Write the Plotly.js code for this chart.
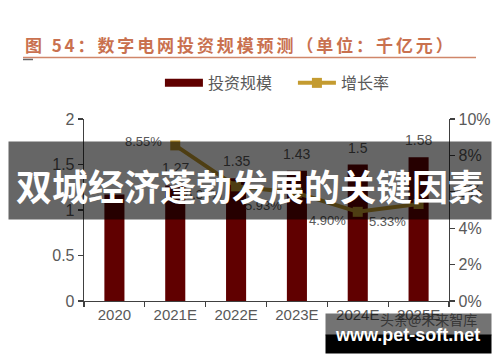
<!DOCTYPE html>
<html><head><meta charset="utf-8">
<script src="https://cdn.plot.ly/plotly-3.0.1.min.js"></script>
<style>
html,body{margin:0;padding:0;background:#fff}
#chart{width:500px;height:362px}
.gtitle{letter-spacing:2.9px}
</style>
</head><body><div id="chart"></div>
<script>
// ---- data ----
const categories = ['2020','2021E','2022E','2023E','2024E','2025E'];
const investment = [1.17, 1.27, 1.35, 1.43, 1.5, 1.58];
const growthCats = ['2021E','2022E','2023E','2024E','2025E'];
const growthRate = [8.55, 6.30, 5.93, 4.90, 5.33];
const leftTicks = [0, 0.5, 1, 1.5, 2];
const rightTicks = [0, 2, 4, 6, 8, 10];
const rightTickText = ['0%','2%','4%','6%','8%','10%'];
const seriesNames = ['投资规模','增长率'];
const titleText = '图 54：数字电网投资规模预测（单位：千亿元）';
const bannerText = '双城经济蓬勃发展的关键因素';
const sourceText = '头条@未来智库';
const watermarkText = 'www.pet-soft.net';

// ---- styles ----
const growthLabelShiftX = [-11, -12, -13, -10, -11];
const growthLabelShiftY = [4, -8, -12, -9, -18];
const barColor = '#600000';
const lineColor = '#c49b30';
const textColor = '#595959';
const numFont = 'Liberation Sans, Arial, sans-serif';
const cjkFont = 'Noto Sans CJK SC, sans-serif';

const data = [
  {type:'bar', x:categories, y:investment, marker:{color:barColor}, width:0.33,
   showlegend:false, hoverinfo:'skip'},
  {type:'scatter', mode:'lines', x:[null], y:[null], name:seriesNames[0],
   line:{color:barColor, width:8}, showlegend:true},
  {type:'scatter', mode:'lines+markers', x:growthCats, y:growthRate, yaxis:'y2',
   name:seriesNames[1], line:{color:lineColor, width:4},
   marker:{symbol:'square', size:10, color:lineColor}}
];

function paperNote(x, y, text, extra){
  return Object.assign({xref:'paper', yref:'paper', x:x, y:y, text:text, showarrow:false,
    xanchor:'center', yanchor:'middle'}, extra);
}

const annotations = [];
categories.forEach((c,i)=>{
  annotations.push({x:c, y:investment[i], xref:'x', yref:'y', text:String(investment[i]),
    showarrow:false, xanchor:'center', yanchor:'middle', yshift:17,
    font:{family:numFont, size:14, color:textColor}});
});
growthCats.forEach((c,i)=>{
  annotations.push({x:c, y:growthRate[i], xref:'x', yref:'y2', text:growthRate[i].toFixed(2)+'%',
    showarrow:false, xanchor:'right', yanchor:'middle',
    xshift:growthLabelShiftX[i], yshift:growthLabelShiftY[i],
    font:{family:numFont, size:13, color:textColor}});
});
// banner overlay
annotations.push(paperNote(0.4548, 0.6621, ' ', {width:482, height:77, borderpad:0, bgcolor:'rgba(0,0,0,0.6)'}));
annotations.push(paperNote(0.4548, 0.636, bannerText, {font:{family:cjkFont, size:36, color:'#ffffff', weight:700}}));
// watermark
annotations.push(paperNote(0.9425, -0.098, sourceText, {font:{family:cjkFont, size:14, color:'#7a7a7a'}}));
annotations.push(paperNote(0.889, -0.1291, ' ', {width:165, height:21, borderpad:0, bgcolor:'rgba(0,0,0,0.55)'}));
annotations.push(paperNote(0.889, -0.2363, ' ', {width:165, height:18, borderpad:0, bgcolor:'#000000'}));
annotations.push(paperNote(0.8863, -0.187, watermarkText, {font:{family:numFont, size:18, color:'#ffffff', weight:700}}));

const layout = {
  width:500, height:362,
  margin:{l:84, r:51, t:119, b:61, pad:0},
  paper_bgcolor:'#ffffff', plot_bgcolor:'#ffffff',
  title:{text:titleText, x:0.05, xanchor:'left', xref:'container', y:0.873, yanchor:'middle', yref:'container',
    font:{family:cjkFont, size:17, color:'#c9714f', weight:700}},
  showlegend:true,
  legend:{orientation:'h', x:0.208, xanchor:'left', y:1.198, yanchor:'middle',
    itemwidth:38, entrywidth:80,
    font:{family:cjkFont, size:16, color:textColor}, bgcolor:'rgba(0,0,0,0)', traceorder:'normal'},
  xaxis:{type:'category', range:[-0.5,5.5], showline:true, linecolor:'#404040', linewidth:1.3,
    ticks:'outside', tickson:'boundaries', ticklen:5, tickcolor:'#404040', tickwidth:1.3,
    showgrid:false, zeroline:false, tickfont:{family:numFont, size:15, color:textColor}, fixedrange:true},
  yaxis:{range:[0,2], tickvals:leftTicks, ticktext:leftTicks.map(String), showline:true, linecolor:'#404040', linewidth:1.3,
    ticks:'outside', ticklen:5, tickcolor:'#404040', tickwidth:1.3, showgrid:false, zeroline:false,
    tickfont:{family:numFont, size:16, color:textColor}, fixedrange:true},
  yaxis2:{range:[0,10], overlaying:'y', side:'right', tickvals:rightTicks, ticktext:rightTickText,
    showline:true, linecolor:'#404040', linewidth:1.3, ticks:'outside', ticklen:5, tickcolor:'#404040', tickwidth:1.3,
    showgrid:false, zeroline:false, tickfont:{family:numFont, size:16, color:textColor}, fixedrange:true},
  shapes:[
    {type:'line', xref:'paper', yref:'paper', x0:-0.1671, x1:1.074, y0:1.3379, y1:1.3379,
     line:{color:'#d0866a', width:1.5}},
    {type:'line', xref:'paper', yref:'paper', x0:-0.1671, x1:-0.1397, y0:1.327, y1:1.327,
     line:{color:'#666666', width:1.5}}
  ],
  annotations:annotations
};

Plotly.newPlot('chart', data, layout, {displayModeBar:false, staticPlot:true});
</script>
</body></html>
